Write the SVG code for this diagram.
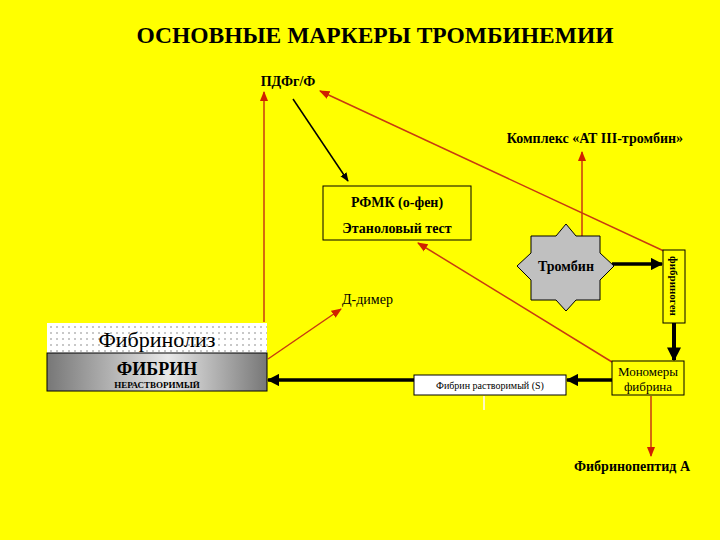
<svg xmlns="http://www.w3.org/2000/svg" width="720" height="540" viewBox="0 0 720 540">
<defs>
<pattern id="dots" width="6" height="6" patternUnits="userSpaceOnUse"><rect width="6" height="6" fill="#fff"/><circle cx="3" cy="3" r="0.7" fill="#666"/></pattern>
<linearGradient id="g" x1="0" x2="1"><stop offset="0" stop-color="#777"/><stop offset="0.55" stop-color="#e8e8e8"/><stop offset="1" stop-color="#777"/></linearGradient>
<marker id="ar" viewBox="0 0 10 10" refX="9" refY="5" markerWidth="7" markerHeight="7" orient="auto-start-reverse"><path d="M0,1 L10,5 L0,9 z" fill="#d02000"/></marker>
<marker id="ab" viewBox="0 0 10 10" refX="9" refY="5" markerWidth="6" markerHeight="6" orient="auto"><path d="M0,1 L10,5 L0,9 z" fill="#000"/></marker>
<marker id="abb" viewBox="0 0 10 10" refX="9" refY="5" markerWidth="3.5" markerHeight="3.5" orient="auto"><path d="M0,0 L10,5 L0,10 z" fill="#000"/></marker>
</defs>
<style>
text{font-family:"Liberation Serif","Times New Roman",serif;fill:#000}
.b{font-weight:bold}
.box{fill:#fff;stroke:#000;stroke-width:1}
.ybox{fill:#ffff00;stroke:#000;stroke-width:1}
.r{stroke:#c83a10;stroke-width:1.5;fill:none}
</style>
<rect width="720" height="540" fill="#ffff00"/>
<g id="title"><text x="375" y="43" text-anchor="middle" class="b" font-size="23.5">ОСНОВНЫЕ МАРКЕРЫ ТРОМБИНЕМИИ</text></g>
<g id="connectors">
<line class="r" x1="264" y1="322" x2="264" y2="92" marker-end="url(#ar)"/>
<line class="r" x1="666" y1="252" x2="320" y2="91" marker-end="url(#ar)"/>
<line class="r" x1="582" y1="236" x2="582" y2="152" marker-end="url(#ar)"/>
<line class="r" x1="612" y1="362" x2="418" y2="243" marker-end="url(#ar)"/>
<line class="r" x1="268" y1="359" x2="341" y2="309" marker-end="url(#ar)"/>
<line class="r" x1="651" y1="396" x2="651" y2="456" marker-end="url(#ar)"/>
<line x1="293" y1="99" x2="348" y2="181" stroke="#000" stroke-width="1.5" marker-end="url(#ab)"/>
<line x1="612" y1="380" x2="567" y2="380" stroke="#000" stroke-width="3.5" marker-end="url(#abb)"/>
<line x1="414" y1="380" x2="268" y2="380" stroke="#000" stroke-width="3.5" marker-end="url(#abb)"/>
<line x1="612" y1="264" x2="662" y2="264" stroke="#000" stroke-width="3.5" marker-end="url(#abb)"/>
<line x1="674" y1="323" x2="674" y2="360" stroke="#000" stroke-width="4" marker-end="url(#abb)"/>
<line x1="484" y1="396" x2="484" y2="410" stroke="#fff8c0" stroke-width="2"/>
</g>
<g id="pdf"><text x="288" y="86" class="b" font-size="14" text-anchor="middle">ПДФг/Ф</text></g>
<g id="complex"><text x="595" y="143" class="b" font-size="14" text-anchor="middle">Комплекс «АТ III-тромбин»</text></g>
<g id="rfmk"><rect class="ybox" x="323" y="186" width="148" height="54"/>
<text x="397" y="207" class="b" font-size="14" text-anchor="middle">РФМК (о-фен)</text>
<text x="397" y="233" class="b" font-size="14" text-anchor="middle">Этаноловый тест</text></g>
<g id="thrombin"><polygon points="566,224 576,236 600,236 600,253 614,266 600,280 600,300 576,300 566,311 556,300 531,300 531,280 517,266 531,253 531,236 556,236" fill="#c0c0c0" stroke="#000"/>
<text x="566" y="271" class="b" font-size="14" text-anchor="middle">Тромбин</text></g>
<g id="fibrinogen"><rect class="ybox" x="663" y="250" width="22" height="73"/>
<text transform="translate(670,286) rotate(90)" class="b" font-size="11" text-anchor="middle">фибриноген</text></g>
<g id="ddimer"><text x="342" y="304" font-size="14">Д-димер</text></g>
<g id="fibrinolysis"><rect x="47" y="323" width="220" height="30" fill="url(#dots)"/>
<text x="157" y="347" font-size="22" text-anchor="middle">Фибринолиз</text></g>
<g id="fibrin"><rect x="47" y="353" width="220" height="38" fill="url(#g)" stroke="#000"/>
<text x="157" y="375" class="b" font-size="18" text-anchor="middle">ФИБРИН</text>
<text x="157" y="388" class="b" font-size="9" text-anchor="middle">НЕРАСТВОРИМЫЙ</text></g>
<g id="soluble"><rect class="box" x="414" y="375" width="152" height="20"/>
<text x="490" y="389" font-size="10" text-anchor="middle">Фибрин растворимый (S)</text></g>
<g id="monomers"><rect class="ybox" x="612" y="361" width="72" height="34"/>
<text x="648" y="376" font-size="13" text-anchor="middle">Мономеры</text>
<text x="648" y="391" font-size="13" text-anchor="middle">фибрина</text></g>
<g id="fpa"><text x="632" y="471" class="b" font-size="14" text-anchor="middle">Фибринопептид А</text></g>
</svg>
